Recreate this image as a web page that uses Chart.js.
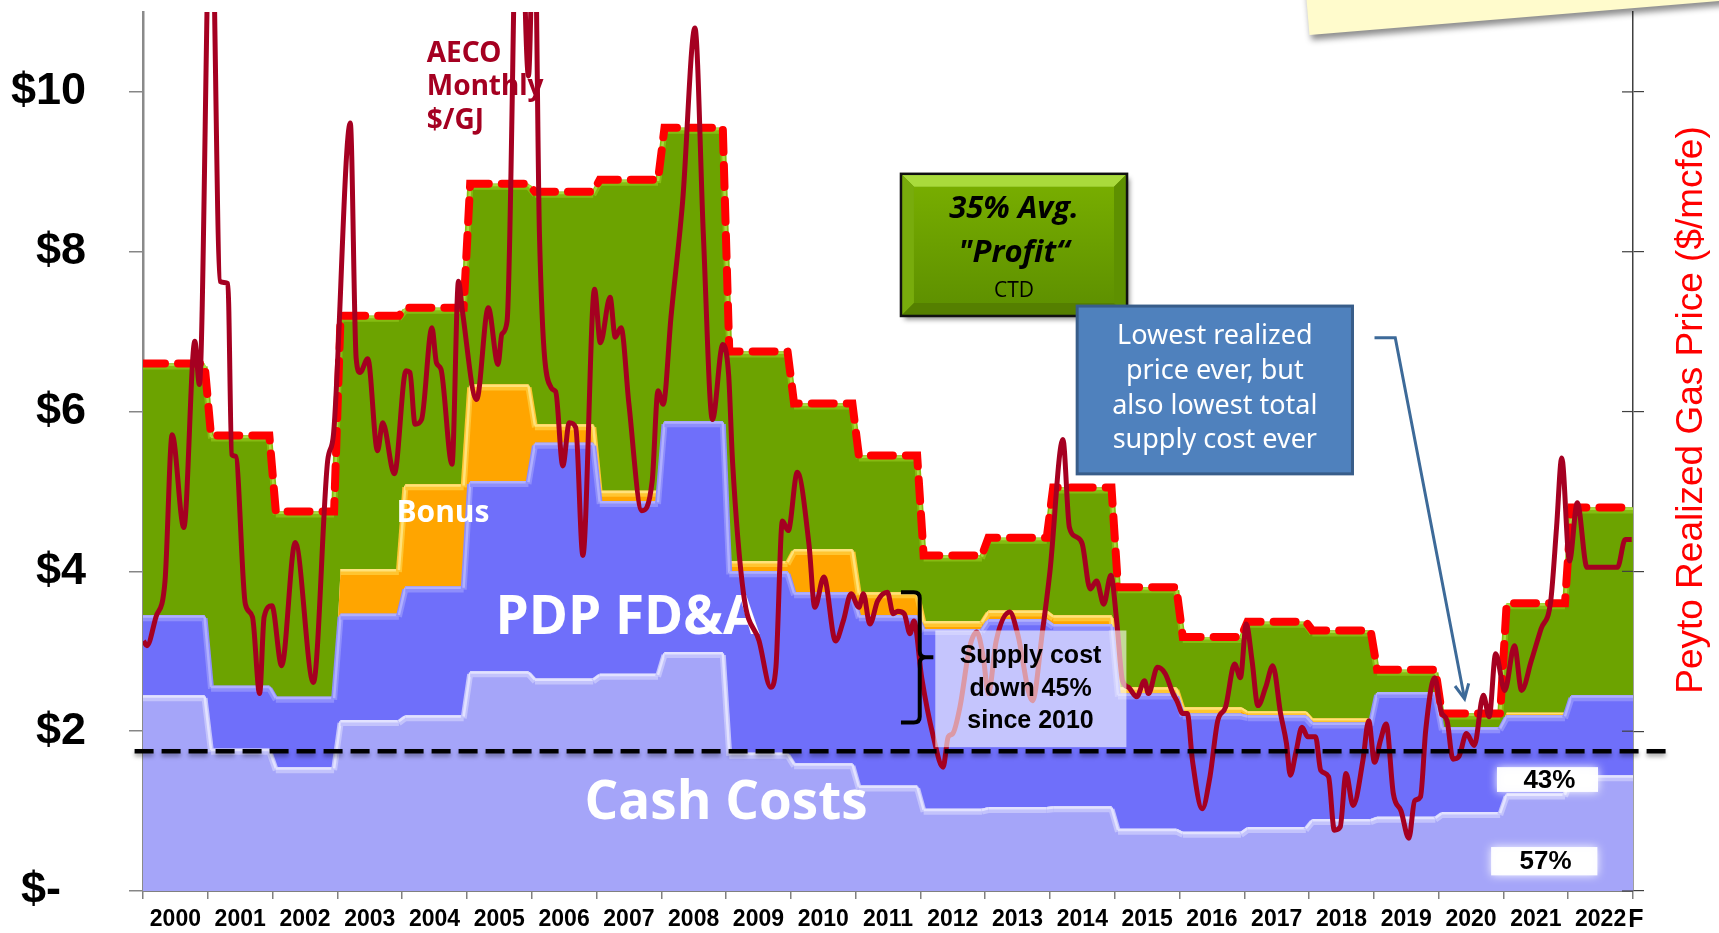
<!DOCTYPE html>
<html>
<head>
<meta charset="utf-8">
<script src="https://cdn.jsdelivr.net/npm/chart.js@4.4.1/dist/chart.umd.min.js"></script>
<style>
  html, body { margin: 0; padding: 0; background: #fff; }
</style>
</head>
<body>
<canvas id="chart" width="1719" height="933"></canvas>
<script>
// yearly supply cost stack ($/mcfe) and realized price
const years = [2000, 2001, 2002, 2003, 2004, 2005, 2006, 2007, 2008, 2009, 2010, 2011,
               2012, 2013, 2014, 2015, 2016, 2017, 2018, 2019, 2020, 2021, 2022];
const cashCosts = [2.45, 1.78, 1.55, 2.14, 2.20, 2.75, 2.66, 2.72, 2.99, 1.73, 1.60, 1.32,
                   1.03, 1.05, 1.06, 0.78, 0.74, 0.80, 0.90, 0.93, 0.99, 1.22, 1.45];
const pdpFdna = [1.00, 0.79, 0.88, 1.33, 1.61, 2.38, 2.95, 2.16, 2.89, 2.27, 2.14, 2.13,
                 2.25, 2.35, 2.28, 1.69, 1.48, 1.40, 1.21, 1.56, 1.06, 0.98, 1.00];
const bonus = [0, 0, 0, 0.56, 1.28, 1.21, 0.23, 0.13, 0, 0.13, 0.54, 0.29,
               0.10, 0.11, 0.11, 0.08, 0.08, 0.05, 0.05, 0, 0, 0.03, 0];
const realizedPrice = [6.60, 5.70, 4.75, 7.20, 7.30, 8.85, 8.75, 8.90, 9.55, 6.75, 6.10, 5.45,
                       4.20, 4.42, 5.05, 3.80, 3.18, 3.37, 3.26, 2.77, 2.22, 3.60, 4.80];

// AECO monthly $/GJ (decimal year, price)
const aecoDates = [2000.01, 2000.06, 2000.20, 2000.34, 2000.45, 2000.63, 2000.80, 2000.87, 2001.05, 2001.19,
  2001.31, 2001.37, 2001.43, 2001.58, 2001.69, 2001.80, 2001.87, 2001.99, 2002.14, 2002.35,
  2002.63, 2002.85, 2002.94, 2003.20, 2003.29, 2003.35, 2003.47, 2003.62, 2003.70, 2003.88,
  2004.06, 2004.12, 2004.20, 2004.30, 2004.46, 2004.53, 2004.60, 2004.77, 2004.87, 2004.93,
  2005.15, 2005.33, 2005.48, 2005.54, 2005.62, 2005.80, 2005.95, 2006.04, 2006.12, 2006.30,
  2006.37, 2006.48, 2006.58, 2006.68, 2006.79, 2006.97, 2007.06, 2007.21, 2007.29, 2007.38,
  2007.50, 2007.70, 2007.86, 2007.95, 2008.03, 2008.15, 2008.33, 2008.52, 2008.65, 2008.79,
  2008.95, 2009.04, 2009.10, 2009.27, 2009.51, 2009.69, 2009.77, 2009.87, 2009.96, 2010.10,
  2010.28, 2010.37, 2010.51, 2010.69, 2010.81, 2010.93, 2011.05, 2011.12, 2011.22, 2011.34,
  2011.49, 2011.58, 2011.65, 2011.75, 2011.84, 2011.90, 2012.02, 2012.20, 2012.35, 2012.43,
  2012.50, 2012.61, 2012.76, 2012.87, 2012.97, 2013.05, 2013.17, 2013.38, 2013.50, 2013.73,
  2013.88, 2014.00, 2014.20, 2014.30, 2014.41, 2014.50, 2014.62, 2014.72, 2014.83, 2014.94,
  2015.03, 2015.12, 2015.21, 2015.34, 2015.46, 2015.52, 2015.66, 2015.78, 2015.90, 2015.96,
  2016.05, 2016.12, 2016.20, 2016.35, 2016.47, 2016.59, 2016.71, 2016.85, 2016.94, 2017.03,
  2017.12, 2017.21, 2017.33, 2017.44, 2017.56, 2017.65, 2017.71, 2017.80, 2017.89, 2017.98,
  2018.10, 2018.18, 2018.30, 2018.39, 2018.48, 2018.57, 2018.68, 2018.83, 2018.92, 2019.01,
  2019.10, 2019.19, 2019.30, 2019.42, 2019.54, 2019.63, 2019.72, 2019.80, 2019.94, 2020.04,
  2020.13, 2020.22, 2020.31, 2020.43, 2020.55, 2020.69, 2020.78, 2020.88, 2021.02, 2021.17,
  2021.28, 2021.43, 2021.58, 2021.73, 2021.82, 2021.90, 2022.02, 2022.14, 2022.29, 2022.76,
  2022.88, 2022.98];
const aecoPrices = [3.13, 3.07, 3.43, 3.88, 5.71, 4.55, 6.88, 6.34, 12.80, 7.63,
  7.60, 5.46, 5.44, 3.59, 3.43, 2.47, 3.43, 3.57, 2.82, 4.36,
  2.61, 5.38, 5.71, 9.61, 6.67, 6.49, 6.66, 5.51, 5.86, 5.22,
  6.51, 6.49, 5.84, 5.90, 7.05, 6.61, 6.53, 5.34, 7.63, 7.26,
  6.15, 7.30, 6.59, 6.97, 7.13, 13.50, 10.20, 12.50, 8.21, 6.30,
  6.25, 5.32, 5.86, 5.80, 4.20, 7.53, 6.86, 7.43, 6.93, 7.05,
  6.10, 4.76, 5.13, 6.26, 6.09, 7.18, 8.63, 10.80, 8.21, 5.90,
  6.84, 6.46, 5.38, 3.72, 3.13, 2.55, 2.80, 4.63, 4.51, 5.24,
  4.34, 3.55, 3.93, 3.13, 3.38, 3.72, 3.55, 3.72, 3.34, 3.63,
  3.74, 3.47, 3.50, 3.47, 3.22, 3.38, 2.67, 1.93, 1.55, 1.93,
  1.97, 2.30, 3.05, 3.24, 2.93, 2.47, 3.13, 3.49, 3.22, 2.38,
  3.22, 4.00, 5.65, 4.55, 4.43, 4.34, 3.78, 3.88, 3.59, 3.95,
  3.38, 2.63, 2.55, 2.43, 2.63, 2.47, 2.80, 2.72, 2.47, 2.38,
  2.22, 2.22, 1.63, 1.03, 1.43, 2.13, 2.30, 2.84, 2.67, 3.34,
  2.88, 2.32, 2.55, 2.82, 2.22, 1.85, 1.45, 1.75, 2.05, 1.93,
  1.93, 1.51, 1.43, 0.76, 0.80, 1.47, 1.07, 1.63, 2.13, 1.61,
  1.88, 2.09, 1.22, 1.00, 0.66, 1.13, 1.18, 2.01, 2.67, 2.24,
  2.13, 1.65, 1.68, 1.97, 1.82, 2.45, 2.18, 2.97, 2.51, 3.07,
  2.51, 2.88, 3.28, 3.63, 4.55, 5.42, 4.13, 4.86, 4.05, 4.05,
  4.40, 4.40];

const cashCostLevel = 1.75;
const yTickValues = [0, 2, 4, 6, 8, 10];
const yTickLabels = ['$-  ', '$2', '$4', '$6', '$8', '$10'];
const forecastMark = 'F';

const profit = realizedPrice.map((p, i) => p - cashCosts[i] - pdpFdna[i] - bonus[i]);

// each yearly value becomes a flat step with a short slope into the next year
const GAP = 0.05;
function yearSteps(values) {
  const last = values.length - 1;
  return values.flatMap((v, i) => [
    { x: years[i] + (i === 0 ? 0 : GAP), y: v },
    { x: years[i] + 1 - (i === last ? 0 : GAP), y: v }
  ]);
}

// fixed axis sizes, no extra room for label overhang
function fixSize(prop, size) {
  return s => {
    s[prop] = size;
    s.paddingTop = s.paddingBottom = s.paddingLeft = s.paddingRight = 0;
  };
}

function text(ctx, str, x, y, font, color, align) {
  ctx.font = font;
  ctx.fillStyle = color;
  ctx.textAlign = align || 'center';
  ctx.textBaseline = 'middle';
  ctx.fillText(str, x, y);
}

// lighter bevel band just inside the top edge of each stacked area
const bevelColors = [
  ['#C3C3FC', '#E2E2FF'],
  ['#8E8EFC', '#B0B0FE'],
  ['#FFC531', '#FFE27A'],
  ['#86BC12', '#A8DA40']
];
function drawBevel(chart, index) {
  const ctx = chart.ctx;
  const a = chart.chartArea;
  const pts = chart.getDatasetMeta(index).data;
  const raw = chart.data.datasets[index].data;
  const unit = chart.scales.y.getPixelForValue(0) - chart.scales.y.getPixelForValue(1);
  ctx.save();
  ctx.beginPath();
  ctx.rect(a.left, a.top, a.right - a.left, a.bottom - a.top);
  ctx.clip();
  ctx.lineCap = 'butt';
  for (let j = 0; j < pts.length - 1; j++) {
    const thick = Math.min(raw[j].y, raw[j + 1].y) * unit;
    if (thick <= 0.5) continue;
    [[Math.min(6, thick), bevelColors[index][0]], [Math.min(2.5, thick / 2), bevelColors[index][1]]].forEach(([w, col]) => {
      ctx.strokeStyle = col;
      ctx.lineWidth = w;
      ctx.beginPath();
      ctx.moveTo(pts[j].x, pts[j].y + w / 2);
      ctx.lineTo(pts[j + 1].x, pts[j + 1].y + w / 2);
      ctx.stroke();
    });
  }
  ctx.restore();
}

const annotations = {
  id: 'annotations',
  afterDatasetDraw(chart, args) {
    if (args.index > 3) return;
    drawBevel(chart, args.index);
    if (args.index !== 0) return;
    const ctx = chart.ctx;
    const X = v => chart.scales.x.getPixelForValue(v);
    const Y = v => chart.scales.y.getPixelForValue(v);
    ctx.save();
    text(ctx, 'PDP FD&A', X(2007.48), Y(3.40), 'bold 53px "Open Sans"', '#fff');
    text(ctx, 'Cash Costs', X(2009.0), Y(1.09), 'bold 53px "Open Sans"', '#fff');
    text(ctx, 'Bonus', X(2004.63), Y(4.72), 'bold 30px "Open Sans"', '#fff');
    text(ctx, 'AECO', X(2004.38), Y(10.48), 'bold 28px "Noto Sans"', '#A50021', 'left');
    text(ctx, 'Monthly', X(2004.38), Y(10.06), 'bold 28px "Noto Sans"', '#A50021', 'left');
    text(ctx, '$/GJ', X(2004.38), Y(9.63), 'bold 28px "Noto Sans"', '#A50021', 'left');
    ctx.restore();
  },
  afterDatasetsDraw(chart) {
    const ctx = chart.ctx;
    const a = chart.chartArea;
    const X = v => chart.scales.x.getPixelForValue(v);
    const Y = v => chart.scales.y.getPixelForValue(v);

    // black dashed cash-cost level
    ctx.save();
    ctx.strokeStyle = '#000';
    ctx.lineWidth = 4.5;
    ctx.setLineDash([19, 8]);
    ctx.shadowColor = 'rgba(0,0,0,0.35)';
    ctx.shadowBlur = 4;
    ctx.shadowOffsetY = 3;
    ctx.beginPath();
    ctx.moveTo(X(1999.87), Y(cashCostLevel));
    ctx.lineTo(X(2023.58), Y(cashCostLevel));
    ctx.stroke();
    ctx.restore();

    // inner half of the right axis tick marks
    ctx.save();
    ctx.strokeStyle = '#404040';
    ctx.lineWidth = 1.2;
    chart.scales.y1.ticks.forEach(t => {
      const y = chart.scales.y1.getPixelForValue(t.value);
      ctx.beginPath(); ctx.moveTo(a.right - 11, y); ctx.lineTo(a.right, y); ctx.stroke();
    });
    ctx.restore();

    // supply cost bracket and note
    ctx.save();
    const bx0 = X(2011.70), bxm = X(2011.99), bxp = X(2012.2);
    const byt = Y(3.74), byb = Y(2.11), bym = Y(2.925);
    ctx.strokeStyle = '#000';
    ctx.lineWidth = 4;
    ctx.beginPath();
    ctx.moveTo(bx0, byt); ctx.lineTo(bxm - 6, byt);
    ctx.quadraticCurveTo(bxm, byt, bxm, byt + 6);
    ctx.lineTo(bxm, bym - 6);
    ctx.quadraticCurveTo(bxm, bym, bxm + 6, bym);
    ctx.lineTo(bxp, bym);
    ctx.moveTo(bxm + 6, bym);
    ctx.quadraticCurveTo(bxm, bym, bxm, bym + 6);
    ctx.lineTo(bxm, byb - 6);
    ctx.quadraticCurveTo(bxm, byb, bxm - 6, byb);
    ctx.lineTo(bx0, byb);
    ctx.stroke();
    ctx.fillStyle = 'rgba(255,255,255,0.6)';
    ctx.fillRect(X(2012.23), Y(3.26), X(2015.18) - X(2012.23), Y(1.80) - Y(3.26));
    const sx = X(2013.70);
    text(ctx, 'Supply cost', sx, Y(2.934), 'bold 25px "Liberation Sans"', '#000');
    text(ctx, 'down 45%', sx, Y(2.521), 'bold 25px "Liberation Sans"', '#000');
    text(ctx, 'since 2010', sx, Y(2.121), 'bold 25px "Liberation Sans"', '#000');
    ctx.restore();

    // share labels in glowing white boxes
    ctx.save();
    [[2020.90, 2022.46, 1.55, 1.24, '43%', 2021.71, 1.375],
     [2020.81, 2022.45, 0.55, 0.196, '57%', 2021.65, 0.3625]].forEach(b => {
      ctx.save();
      ctx.fillStyle = 'rgba(255,255,255,0.95)';
      ctx.shadowColor = '#fff';
      ctx.shadowBlur = 10;
      ctx.fillRect(X(b[0]), Y(b[2]), X(b[1]) - X(b[0]), Y(b[3]) - Y(b[2]));
      ctx.restore();
      text(ctx, b[4], X(b[5]), Y(b[6]), 'bold 26px "Liberation Sans"', '#000');
    });
    ctx.restore();

    // green profit box
    ctx.save();
    const gx0 = X(2011.70), gx1 = X(2015.19), gy0 = Y(8.975), gy1 = Y(7.196);
    const bev = 13;
    ctx.shadowColor = 'rgba(0,0,0,0.45)';
    ctx.shadowBlur = 5;
    ctx.shadowOffsetX = 3;
    ctx.shadowOffsetY = 4;
    ctx.fillStyle = '#669900';
    ctx.fillRect(gx0, gy0, gx1 - gx0, gy1 - gy0);
    ctx.shadowColor = 'transparent';
    const gg = ctx.createLinearGradient(0, gy0, 0, gy1);
    gg.addColorStop(0, '#7AB000');
    gg.addColorStop(1, '#5C8E00');
    ctx.fillStyle = gg;
    ctx.fillRect(gx0 + bev, gy0 + bev, gx1 - gx0 - 2 * bev, gy1 - gy0 - 2 * bev);
    const bevel = (pts, color) => {
      ctx.fillStyle = color;
      ctx.beginPath();
      pts.forEach((p, i) => i ? ctx.lineTo(p[0], p[1]) : ctx.moveTo(p[0], p[1]));
      ctx.closePath();
      ctx.fill();
    };
    bevel([[gx0, gy0], [gx1, gy0], [gx1 - bev, gy0 + bev], [gx0 + bev, gy0 + bev]], '#A9DB3C');
    bevel([[gx0, gy0], [gx0 + bev, gy0 + bev], [gx0 + bev, gy1 - bev], [gx0, gy1]], '#78AC0C');
    bevel([[gx1, gy0], [gx1, gy1], [gx1 - bev, gy1 - bev], [gx1 - bev, gy0 + bev]], '#5E9000');
    bevel([[gx0, gy1], [gx0 + bev, gy1 - bev], [gx1 - bev, gy1 - bev], [gx1, gy1]], '#557F00');
    ctx.strokeStyle = '#111';
    ctx.lineWidth = 2.5;
    ctx.strokeRect(gx0, gy0, gx1 - gx0, gy1 - gy0);
    const gcx = (gx0 + gx1) / 2;
    text(ctx, '35% Avg.', gcx, Y(8.534), 'italic bold 31px "Open Sans"', '#000');
    text(ctx, '"Profit\u201C', gcx, Y(7.984), 'italic bold 31px "Open Sans"', '#000');
    text(ctx, 'CTD', gcx, Y(7.51), '21px "Open Sans"', '#000');
    ctx.restore();

    // blue call-out box with connector arrow
    ctx.save();
    const cx0 = X(2014.42), cx1 = X(2018.67), cy0 = Y(7.32), cy1 = Y(5.22);
    ctx.fillStyle = '#4F81BD';
    ctx.fillRect(cx0, cy0, cx1 - cx0, cy1 - cy0);
    ctx.strokeStyle = '#385D8A';
    ctx.lineWidth = 3;
    ctx.strokeRect(cx0, cy0, cx1 - cx0, cy1 - cy0);
    const ccx = (cx0 + cx1) / 2;
    ['Lowest realized', 'price ever, but', 'also lowest total', 'supply cost ever'].forEach((s, i) => {
      text(ctx, s, ccx, Y([6.946, 6.509, 6.071, 5.634][i]), '27px "Noto Sans"', '#fff');
    });
    const ax0 = X(2019.01), ax1 = X(2019.33), ay = Y(6.925);
    const tipX = X(2020.40), tipY = Y(2.405);
    ctx.strokeStyle = '#3D6A99';
    ctx.lineWidth = 3;
    ctx.beginPath();
    ctx.moveTo(ax0, ay); ctx.lineTo(ax1, ay); ctx.lineTo(tipX, tipY);
    ctx.stroke();
    const ang = Math.atan2(tipY - ay, tipX - ax1);
    ctx.beginPath();
    ctx.moveTo(tipX - 16 * Math.cos(ang - 0.45), tipY - 16 * Math.sin(ang - 0.45));
    ctx.lineTo(tipX, tipY);
    ctx.lineTo(tipX - 16 * Math.cos(ang + 0.45), tipY - 16 * Math.sin(ang + 0.45));
    ctx.stroke();
    ctx.restore();

    // right axis title
    ctx.save();
    ctx.translate(1692, 410);
    ctx.rotate(-Math.PI / 2);
    text(ctx, 'Peyto Realized Gas Price ($/mcfe)', 0, 0, '37px "Liberation Sans"', '#FF0000');
    ctx.restore();

    // forecast mark after the last year
    ctx.save();
    text(ctx, forecastMark, a.right + 3, a.bottom + 29, 'bold 25px "Liberation Sans"', '#000');
    ctx.restore();

    // sticky note corner at the top right
    ctx.save();
    ctx.shadowColor = 'rgba(0,0,0,0.45)';
    ctx.shadowBlur = 6;
    ctx.shadowOffsetX = 2;
    ctx.shadowOffsetY = 5;
    ctx.fillStyle = '#FFFBCC';
    ctx.beginPath();
    ctx.moveTo(1304, -30);
    ctx.lineTo(1309.5, 35);
    ctx.lineTo(1730, 0);
    ctx.lineTo(1730, -30);
    ctx.closePath();
    ctx.fill();
    ctx.restore();
  }
};

const areaBase = { fill: '-1', pointRadius: 0, yAxisID: 'y', borderWidth: 0 };

new Chart(document.getElementById('chart'), {
  type: 'line',
  data: {
    datasets: [
      { ...areaBase, label: 'Cash Costs', data: yearSteps(cashCosts), fill: 'origin',
        backgroundColor: '#A5A5F9', order: 2 },
      { ...areaBase, label: 'PDP FD&A', data: yearSteps(pdpFdna),
        backgroundColor: '#6F6FFA', order: 3 },
      { ...areaBase, label: 'Bonus', data: yearSteps(bonus),
        backgroundColor: '#FFA500', order: 4 },
      { ...areaBase, label: 'Profit', data: yearSteps(profit),
        backgroundColor: '#6CA300', order: 5 },
      { label: 'Peyto Realized Gas Price', data: yearSteps(realizedPrice), yAxisID: 'y1',
        borderColor: '#FF0000', borderWidth: 8, borderDash: [22, 13], borderCapStyle: 'round',
        pointRadius: 0, fill: false, order: 1 },
      { label: 'AECO Monthly $/GJ', data: aecoDates.map((d, i) => ({ x: d, y: aecoPrices[i] })),
        yAxisID: 'y1', borderColor: '#A50021', borderWidth: 5, cubicInterpolationMode: 'monotone',
        pointRadius: 0, fill: false, order: 0 }
    ]
  },
  options: {
    responsive: false,
    animation: false,
    devicePixelRatio: 1,
    layout: { autoPadding: false, padding: { top: 12, left: 0, right: 0, bottom: 0 } },
    plugins: { legend: { display: false }, tooltip: { enabled: false } },
    scales: {
      x: {
        type: 'linear', position: 'bottom', min: 2000, max: 2023,
        ticks: {
          stepSize: 1, autoSkip: false, maxRotation: 0, labelOffset: 32.4, padding: 7,
          color: '#000', font: { family: '"Liberation Sans", Arial', size: 23, weight: 'bold' },
          callback: v => years.includes(v) ? String(v) : ''
        },
        grid: { drawOnChartArea: false, tickLength: 8, color: '#808080', lineWidth: 1.5 },
        border: { color: '#808080', width: 2 },
        afterFit: fixSize('height', 42)
      },
      y: {
        position: 'left', min: 0, max: 11, stacked: true,
        ticks: {
          stepSize: 2, includeBounds: false, padding: 43, color: '#000',
          font: { family: '"Liberation Sans", Arial', size: 45, weight: 'bold' },
          callback: v => yTickLabels[yTickValues.indexOf(v)]
        },
        grid: { drawOnChartArea: false, tickLength: 14, color: '#868686', lineWidth: 1.5 },
        border: { color: '#8A8A8A', width: 2.5 },
        afterFit: fixSize('width', 143)
      },
      y1: {
        position: 'right', min: 0, max: 11, stacked: false,
        ticks: { stepSize: 2, includeBounds: false, display: false },
        grid: { drawOnChartArea: false, tickLength: 11, color: '#404040', lineWidth: 1.2 },
        border: { color: '#404040', width: 1.5 },
        afterFit: fixSize('width', 86)
      }
    }
  },
  plugins: [annotations]
});
</script>
</body>
</html>
